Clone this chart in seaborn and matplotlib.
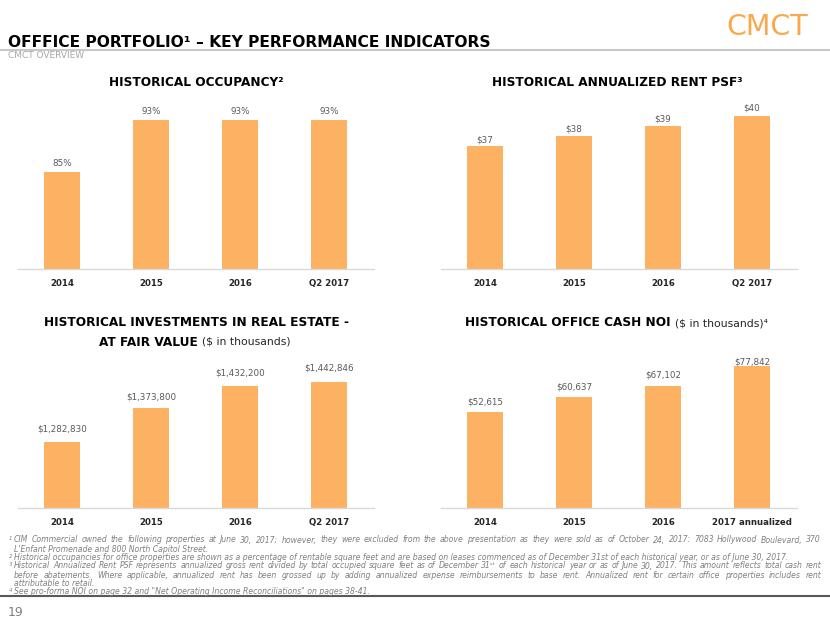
import matplotlib
matplotlib.use("Agg")
import matplotlib.pyplot as plt
import seaborn as sns
import pandas as pd
from matplotlib.lines import Line2D

# ---------------- data ----------------
cats_a = ["2014", "2015", "2016", "Q2 2017"]
occupancy = [85, 93, 93, 93]
rent_psf = [37, 38, 39, 40]
investments = [1282830, 1373800, 1432200, 1442846]
cats_b = ["2014", "2015", "2016", "2017 annualized"]
cash_noi = [52615, 60637, 67102, 77842]

BAR = "#FCB163"
W, H = 830, 623

sns.set_theme(style="white")
plt.rcParams["font.family"] = ["DejaVu Sans"]

fig = plt.figure(figsize=(W / 100, H / 100), dpi=100)
fig.patch.set_facecolor("white")


def fx(x):
    return x / W


def fy(y):
    return 1 - y / H


def axes_px(left, top, right, bottom):
    return fig.add_axes([fx(left), fy(bottom), (right - left) / W, (bottom - top) / H])


def bar_panel(ax, cats, vals, ylim, fmt, off):
    df = pd.DataFrame({"cat": cats, "val": vals})
    sns.barplot(data=df, x="cat", y="val", color=BAR, width=0.4, ax=ax,
                saturation=1, edgecolor="none")
    ax.set_ylim(*ylim)
    ax.set_xlim(-0.5, 3.5)
    ax.set_xlabel("")
    ax.set_ylabel("")
    ax.set_yticks([])
    for s in ["left", "right", "top"]:
        ax.spines[s].set_visible(False)
    ax.spines["bottom"].set_color("#d9d9d9")
    ax.spines["bottom"].set_linewidth(1.0)
    ax.tick_params(axis="x", length=0, pad=7)
    ax.set_xticks(range(len(cats)))
    ax.set_xticklabels(cats, fontsize=6.2, fontweight="bold", color="#262626")
    for i, v in enumerate(vals):
        ax.annotate(fmt(v), (i, v), xytext=(0, off[i]), textcoords="offset pixels",
                    ha="center", va="bottom", fontsize=6.3, color="#595959",
                    annotation_clip=False)
    ax.set_facecolor("none")


# top row
ax1 = axes_px(17.5, 100, 373.5, 269)
bar_panel(ax1, cats_a, occupancy, (70, 70 + 169 / 6.5), lambda v: f"{v}%", [4, 4, 4, 4])
ax2 = axes_px(440.5, 100, 796.5, 269)
bar_panel(ax2, cats_a, rent_psf, (24.7, 24.7 + 16.9), lambda v: f"${v}", [1, 2, 2, 3])
# bottom row
ax3 = axes_px(17.5, 355, 373.5, 508)
bar_panel(ax3, cats_a, investments, (1106000, 1106000 + 153 / 0.0003736),
          lambda v: f"${v:,}", [8, 6, 9, 10])
ax4 = axes_px(440.5, 355, 796.5, 508)
bar_panel(ax4, cats_b, cash_noi, (0, 153 / 1.823 * 1000), lambda v: f"${v:,}", [6, 6, 6, 0])

# ---------------- header ----------------
fig.text(fx(8), fy(47), "OFFFICE PORTFOLIO¹ – KEY PERFORMANCE INDICATORS",
         fontsize=11.2, fontweight="bold", color="#000000", ha="left", va="baseline")
fig.text(fx(8), fy(56), "CMCT OVERVIEW", fontsize=6.5, color="#a6a6a6",
         ha="left", va="center")
fig.text(fx(808), fy(35), "CMCT", fontsize=20.5, color="#F9A94B", ha="right",
         va="baseline")
fig.add_artist(Line2D([0, 1], [fy(50), fy(50)], transform=fig.transFigure,
                      color="#c8c8c8", lw=1.5))

# chart titles
TS = 8.7
fig.text(fx(196), fy(83), "HISTORICAL OCCUPANCY²", fontsize=TS, fontweight="bold",
         ha="center", va="center", color="#000000")
fig.text(fx(617), fy(83), "HISTORICAL ANNUALIZED RENT PSF³", fontsize=TS,
         fontweight="bold", ha="center", va="center", color="#000000")
fig.text(fx(196), fy(323), "HISTORICAL INVESTMENTS IN REAL ESTATE -", fontsize=TS,
         fontweight="bold", ha="center", va="center", color="#000000")
fig.text(fx(198), fy(342), "AT FAIR VALUE", fontsize=TS, fontweight="bold",
         ha="right", va="center", color="#000000")
fig.text(fx(202), fy(342), "($ in thousands)", fontsize=7.8, ha="left",
         va="center", color="#262626")
fig.text(fx(671), fy(323), "HISTORICAL OFFICE CASH NOI", fontsize=TS,
         fontweight="bold", ha="right", va="center", color="#000000")
fig.text(fx(675), fy(323), "($ in thousands)⁴", fontsize=7.8, ha="left",
         va="center", color="#262626")

# ---------------- footnotes ----------------
FN = dict(fontsize=5.6, style="italic", color="#808080", va="center")
renderer = fig.canvas.get_renderer()


def justify(y, text, x0=14, x1=821):
    words = text.split(" ")
    objs = [fig.text(0, fy(y), w, ha="left", **FN) for w in words]
    widths = [o.get_window_extent(renderer).width for o in objs]
    gap = (x1 - x0 - sum(widths)) / (len(words) - 1)
    x = x0
    for o, wd in zip(objs, widths):
        o.set_x(fx(x))
        x += wd + gap


def plain(y, text, x0=14):
    fig.text(fx(x0), fy(y), text, ha="left", **FN)


def mark(y, m):
    fig.text(fx(9), fy(y - 1), m, ha="left", fontsize=4, style="italic",
             color="#808080", va="center")


mark(540, "1")
justify(540, "CIM Commercial owned the following properties at June 30, 2017; however, they "
        "were excluded from the above presentation as they were sold as of October 24, "
        "2017: 7083 Hollywood Boulevard, 370")
plain(549, "L'Enfant Promenade and 800 North Capitol Street.")
mark(558, "2")
plain(558, "Historical occupancies for office properties are shown as a percentage of rentable "
      "square feet and are based on leases commenced as of December 31st of each historical "
      "year, or as of June 30, 2017.")
mark(566, "3")
justify(566, "Historical Annualized Rent PSF represents annualized gross rent divided by total "
        "occupied square feet as of December 31ˢᵗ of each historical year or as of June 30, "
        "2017. This amount reflects total cash rent")
justify(575, "before abatements. Where applicable, annualized rent has been grossed up by "
        "adding annualized expense reimbursements to base rent. Annualized rent for certain "
        "office properties includes rent")
plain(583, "attributable to retail.")
mark(591, "4")
plain(591, "See pro-forma NOI on page 32 and \"Net Operating Income Reconciliations\" on pages 38-41.")

fig.add_artist(Line2D([0, 1], [fy(596), fy(596)], transform=fig.transFigure,
                      color="#595959", lw=1.5))
fig.text(fx(8), fy(613), "19", fontsize=9, color="#7f7f7f", ha="left", va="center")

fig.savefig("out.png", dpi=100, facecolor="white")
